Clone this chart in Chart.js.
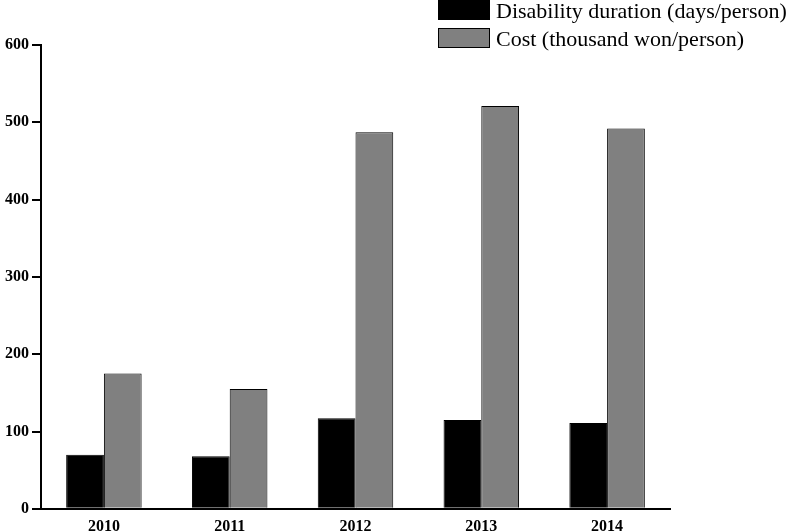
<!DOCTYPE html>
<html>
<head>
<meta charset="utf-8">
<script src="https://cdn.jsdelivr.net/npm/chart.js@4"></script>
<style>
  html, body { margin: 0; padding: 0; background: #fff; }
  #wrap { width: 787px; height: 532px; position: relative; }
</style>
</head>
<body>
<div id="wrap"><canvas id="bar-chart"></canvas></div>
<script>
// data ------
const years = ['2010', '2011', '2012', '2013', '2014'];
const disabilityDays = [70, 68, 117, 115, 111];
const costThousandWon = [175, 155, 487, 521, 492];
const seriesNames = ['Disability duration (days/person)', 'Cost (thousand won/person)'];
const yTicks = [0, 100, 200, 300, 400, 500, 600];

const serif = "'Liberation Serif', 'Times New Roman', serif";

// legend drawn top right, boxes stacked ------
const stackedLegend = {
  id: 'stackedLegend',
  afterDraw(chart) {
    const ctx = chart.ctx;
    ctx.save();
    ctx.font = '22px ' + serif;
    ctx.textBaseline = 'middle';
    chart.data.datasets.forEach(function (ds, i) {
      const y = i * 28;
      ctx.fillStyle = ds.backgroundColor;
      ctx.fillRect(438, y, 52, 20);
      ctx.strokeStyle = '#000';
      ctx.lineWidth = 1;
      ctx.strokeRect(438.5, y + 0.5, 51, 19);
      ctx.fillStyle = '#000';
      ctx.fillText(ds.label, 496, y + 12);
    });
    ctx.restore();
  }
};

new Chart(document.getElementById('bar-chart').getContext('2d'), {
  type: 'bar',
  data: {
    labels: years,
    datasets: [{
      label: seriesNames[0],
      data: disabilityDays,
      backgroundColor: '#000000',
      borderColor: '#000000',
      borderWidth: 1,
      categoryPercentage: 0.6,
      barPercentage: 1
    }, {
      label: seriesNames[1],
      data: costThousandWon,
      backgroundColor: '#808080',
      borderColor: '#000000',
      borderWidth: 1,
      categoryPercentage: 0.6,
      barPercentage: 1
    }]
  },
  options: {
    responsive: true,
    maintainAspectRatio: false,
    animation: false,
    layout: { padding: { top: 45, right: 117, left: 2, bottom: -12 } },
    plugins: {
      legend: { display: false },
      tooltip: { enabled: false }
    },
    scales: {
      x: {
        grid: { display: false, drawTicks: false },
        border: { color: '#000', width: 2 },
        ticks: { color: '#000', padding: 8, font: { family: serif, size: 16, weight: 'bold' } }
      },
      y: {
        min: 0,
        max: 600,
        afterBuildTicks: function (axis) { axis.ticks = yTicks.map(v => ({ value: v })); },
        grid: { drawOnChartArea: false, drawTicks: true, tickLength: 9, color: '#000', lineWidth: 2 },
        border: { color: '#000', width: 2 },
        ticks: { color: '#000', padding: 3, font: { family: serif, size: 16, weight: 'bold' } }
      }
    }
  },
  plugins: [stackedLegend]
});
</script>
</body>
</html>
